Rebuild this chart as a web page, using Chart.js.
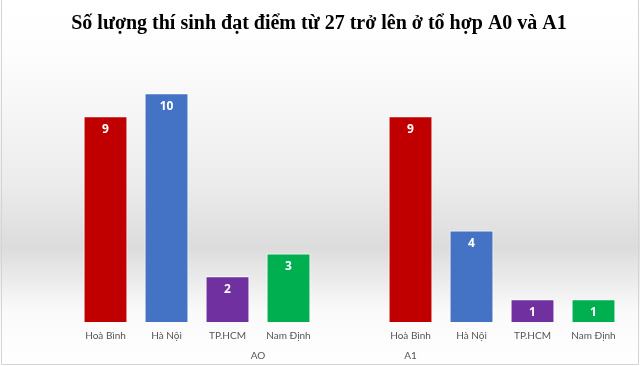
<!DOCTYPE html>
<html>
<head>
<meta charset="utf-8">
<script src="https://cdn.jsdelivr.net/npm/chart.js@4"></script>
<style>
  html, body { margin: 0; padding: 0; background: #fff; }
  #wrap { width: 640px; height: 366px; }
</style>
</head>
<body>
<div id="wrap"><canvas id="scoreChart" width="640" height="366"></canvas></div>
<script>
const chartTitle = 'Số lượng thí sinh đạt điểm từ 27 trở lên ở tổ hợp A0 và A1';
const cities = ['Hoà Bình', 'Hà Nội', 'TP.HCM', 'Nam Định'];
const groupLabels = ['AO', 'A1'];
const valuesA0 = [9, 10, 2, 3];
const valuesA1 = [9, 4, 1, 1];
const cityColors = ['#C00000', '#4472C4', '#7030A0', '#00B050'];

// each group gets an empty slot in front of it, like the sheet had
const labels = [];
const values = [];
const colors = [];
const groupCenters = [];
[valuesA0, valuesA1].forEach((vals, g) => {
    labels.push('');
    values.push(null);
    colors.push('transparent');
    const start = labels.length;
    vals.forEach((v, i) => {
        labels.push(cities[i]);
        values.push(v);
        colors.push(cityColors[i]);
    });
    groupCenters.push(start + vals.length / 2);
});

const backdrop = {
    id: 'backdrop',
    beforeDraw(chart) {
        const { ctx, width, height } = chart;
        const grad = ctx.createLinearGradient(0, 0, 0, height);
        grad.addColorStop(0, '#ffffff');
        grad.addColorStop(0.15, '#fdfdfd');
        grad.addColorStop(0.5, '#ececec');
        grad.addColorStop(0.675, '#dcdcdc');
        grad.addColorStop(0.85, '#fafafa');
        grad.addColorStop(1, '#ffffff');
        ctx.save();
        ctx.fillStyle = grad;
        ctx.fillRect(0, 0, width, height);
        ctx.strokeStyle = '#d4d4d4';
        ctx.lineWidth = 1;
        ctx.beginPath();
        ctx.moveTo(1.5, 0);
        ctx.lineTo(1.5, height - 1.5);
        ctx.lineTo(width - 1.5, height - 1.5);
        ctx.lineTo(width - 1.5, 0);
        ctx.stroke();
        ctx.restore();
    }
};

const valueLabels = {
    id: 'valueLabels',
    afterDatasetsDraw(chart) {
        const { ctx } = chart;
        const meta = chart.getDatasetMeta(0);
        ctx.save();
        ctx.fillStyle = '#ffffff';
        ctx.font = 'bold 12px "Open Sans", sans-serif';
        ctx.textAlign = 'center';
        ctx.textBaseline = 'middle';
        meta.data.forEach((bar, i) => {
            const v = values[i];
            if (v == null) return;
            ctx.fillText(String(v), bar.x, bar.y + 13);
        });
        ctx.restore();
    }
};

new Chart(document.getElementById('scoreChart'), {
    type: 'bar',
    data: {
        labels: labels,
        datasets: [{
            data: values,
            backgroundColor: colors,
            borderColor: '#ffffff',
            borderWidth: 1,
            categoryPercentage: 1,
            barPercentage: 0.72
        }]
    },
    options: {
        responsive: false,
        animation: false,
        layout: { padding: { left: 14, right: 16, top: 0, bottom: 4 } },
        plugins: {
            legend: { display: false },
            tooltip: { enabled: false },
            title: {
                display: true,
                text: chartTitle,
                color: '#000000',
                font: { family: '"Liberation Serif", serif', size: 20, weight: 'bold' },
                padding: { top: 12, bottom: 23 }
            }
        },
        scales: {
            x: {
                grid: { display: false, drawTicks: false },
                border: { display: false },
                ticks: {
                    color: '#555555',
                    font: { family: 'Lato, sans-serif', size: 10 },
                    padding: 8,
                    autoSkip: false,
                    maxRotation: 0
                }
            },
            x2: {
                type: 'linear',
                position: 'bottom',
                min: 0,
                max: labels.length,
                grid: { display: false, drawTicks: false },
                border: { display: false },
                afterBuildTicks: scale => {
                    scale.ticks = groupCenters.map(c => ({ value: c }));
                },
                ticks: {
                    color: '#555555',
                    font: { family: 'Lato, sans-serif', size: 10 },
                    padding: 0,
                    callback: value => groupLabels[groupCenters.indexOf(value)]
                }
            },
            y: {
                display: false,
                min: 0,
                max: 11.5
            }
        }
    },
    plugins: [backdrop, valueLabels]
});
</script>
</body>
</html>
